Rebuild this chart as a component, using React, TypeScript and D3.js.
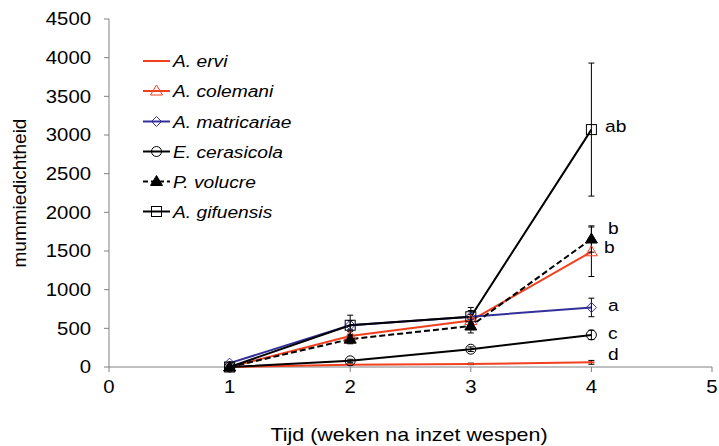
import React from "react";
import * as d3 from "d3";

const weeks = [1, 2, 3, 4];
const seriesNames = ["A. ervi", "A. colemani", "A. matricariae", "E. cerasicola", "P. volucre", "A. gifuensis"];
const ervi = [0, 30, 40, 60];
const colemani = [0, 400, 600, 1490];
const matricariae = [50, 540, 650, 770];
const cerasicola = [0, 80, 230, 415];
const volucre = [0, 360, 530, 1655];
const gifuensis = [0, 540, 650, 3070];
const erviErr = [0, 10, 10, 25];
const colemaniErr = [0, 60, 80, 320];
const matricariaeErr = [0, 60, 80, 120];
const cerasicolaErr = [0, 20, 30, 60];
const volucreErr = [0, 60, 90, 170];
const gifuensisErr = [0, 130, 120, 860];
const letters = ["d", "b", "a", "c", "b", "ab"];
const yTicks = [0, 500, 1000, 1500, 2000, 2500, 3000, 3500, 4000, 4500];
const xTicks = [0, 1, 2, 3, 4, 5];

const RED = "#F2401F";
const BLUE = "#34309A";
const BLACK = "#000000";
const STRETCH = 1.13;

type Series = {
  name: string;
  values: number[];
  err: number[];
  color: string;
  dashed: boolean;
  marker: "dash" | "triangle" | "diamond" | "circle" | "filledTriangle" | "square";
  letter: string;
  letterDy: number;
};

const series: Series[] = [
  { name: seriesNames[0], values: ervi, err: erviErr, color: RED, dashed: false, marker: "dash", letter: letters[0], letterDy: -8 },
  { name: seriesNames[1], values: colemani, err: colemaniErr, color: RED, dashed: false, marker: "triangle", letter: letters[1], letterDy: -5 },
  { name: seriesNames[2], values: matricariae, err: matricariaeErr, color: BLUE, dashed: false, marker: "diamond", letter: letters[2], letterDy: -3 },
  { name: seriesNames[3], values: cerasicola, err: cerasicolaErr, color: BLACK, dashed: false, marker: "circle", letter: letters[3], letterDy: -2 },
  { name: seriesNames[4], values: volucre, err: volucreErr, color: BLACK, dashed: true, marker: "filledTriangle", letter: letters[4], letterDy: -11 },
  { name: seriesNames[5], values: gifuensis, err: gifuensisErr, color: BLACK, dashed: false, marker: "square", letter: letters[5], letterDy: -4 },
];
const letterX = [608, 604, 608, 608, 608, 605];

function Marker({ kind, x, y, color }: { kind: Series["marker"]; x: number; y: number; color: string }) {
  const s = 5;
  switch (kind) {
    case "dash":
      return <line x1={x - 3} x2={x + 3} y1={y} y2={y} stroke={color} strokeWidth={2} />;
    case "triangle":
      return (
        <path
          d={`M${x},${y - s - 1}L${x + s + 1},${y + s - 1}L${x - s - 1},${y + s - 1}Z`}
          fill="none"
          stroke={color}
          strokeWidth={1}
        />
      );
    case "filledTriangle":
      return <path d={`M${x},${y - s - 1}L${x + s + 1},${y + s - 1}L${x - s - 1},${y + s - 1}Z`} fill={color} stroke={color} strokeWidth={1} />;
    case "diamond":
      return <path d={`M${x},${y - s}L${x + s},${y}L${x},${y + s}L${x - s},${y}Z`} fill="none" stroke={color} strokeWidth={1} />;
    case "circle":
      return <circle cx={x} cy={y} r={s} fill="none" stroke={color} strokeWidth={1} />;
    case "square":
      return <rect x={x - s} y={y - s} width={2 * s} height={2 * s} fill="none" stroke={color} strokeWidth={1} />;
  }
}

// Horizontally widened text, anchored at (x, y)
function WideText({
  x,
  y,
  anchor = "start",
  size,
  italic = false,
  children,
}: {
  x: number;
  y: number;
  anchor?: "start" | "middle" | "end";
  size: number;
  italic?: boolean;
  children: React.ReactNode;
}) {
  return (
    <text
      transform={`translate(${x},${y}) scale(${STRETCH},1)`}
      textAnchor={anchor}
      dy="0.36em"
      fontSize={size}
      fontStyle={italic ? "italic" : undefined}
      fill="#000"
    >
      {children}
    </text>
  );
}

export default function App() {
  const width = 719;
  const height = 446;
  const x = d3.scaleLinear().domain([0, 5]).range([109, 712]);
  const y = d3.scaleLinear().domain([0, 4500]).range([367, 19]);
  const line = d3
    .line<number>()
    .x((_, i) => x(weeks[i]))
    .y((d) => y(d));

  const font = "Arial, 'Liberation Sans', sans-serif";
  const legendY = [61, 91, 121.5, 151.5, 181.5, 211.5];

  return (
    <svg
      width={width}
      height={height}
      style={{ position: "absolute", left: 0, top: 0, background: "white" }}
      fontFamily={font}
    >
      {/* axes */}
      <line x1={x(0)} x2={x(0)} y1={y(4500)} y2={y(0)} stroke="#808080" strokeWidth={1} />
      <line x1={x(0)} x2={x(5)} y1={y(0)} y2={y(0)} stroke="#808080" strokeWidth={1} />
      {yTicks.map((t) => (
        <g key={`y${t}`}>
          <line x1={x(0) - 5} x2={x(0)} y1={y(t)} y2={y(t)} stroke="#808080" />
          <WideText x={91} y={y(t)} anchor="end" size={18}>
            {t}
          </WideText>
        </g>
      ))}
      {xTicks.map((t) => (
        <g key={`x${t}`}>
          <line x1={x(t)} x2={x(t)} y1={y(0)} y2={y(0) + 5} stroke="#808080" />
          <WideText x={x(t)} y={387} anchor="middle" size={18}>
            {t}
          </WideText>
        </g>
      ))}
      <WideText x={409} y={434} anchor="middle" size={19}>
        Tijd (weken na inzet wespen)
      </WideText>
      <text transform="translate(19,193) rotate(-90)" textAnchor="middle" dy="0.36em" fontSize={19} fill="#000">
        mummiedichtheid
      </text>

      {/* series lines */}
      {series.map((s) => (
        <path
          key={`l${s.name}`}
          d={line(s.values) || ""}
          fill="none"
          stroke={s.color}
          strokeWidth={2}
          strokeDasharray={s.dashed ? "6,3" : undefined}
        />
      ))}

      {/* error bars */}
      {series.map((s) =>
        s.values.map((v, i) =>
          s.err[i] > 0 ? (
            <g key={`e${s.name}${i}`} stroke="#000" strokeWidth={1}>
              <line x1={x(weeks[i])} x2={x(weeks[i])} y1={y(v + s.err[i])} y2={y(v - s.err[i])} />
              <line x1={x(weeks[i]) - 3} x2={x(weeks[i]) + 3} y1={y(v + s.err[i])} y2={y(v + s.err[i])} />
              <line x1={x(weeks[i]) - 3} x2={x(weeks[i]) + 3} y1={y(v - s.err[i])} y2={y(v - s.err[i])} />
            </g>
          ) : null
        )
      )}

      {/* markers */}
      {series.map((s) =>
        s.values.map((v, i) => <Marker key={`m${s.name}${i}`} kind={s.marker} x={x(weeks[i])} y={y(v)} color={s.color} />)
      )}

      {/* significance letters */}
      {series.map((s, i) => (
        <WideText key={`t${s.name}`} x={letterX[i]} y={y(s.values[3]) + s.letterDy} size={17}>
          {s.letter}
        </WideText>
      ))}

      {/* legend */}
      {series.map((s, i) => (
        <g key={`g${s.name}`}>
          <line
            x1={143}
            x2={170}
            y1={legendY[i]}
            y2={legendY[i]}
            stroke={s.color}
            strokeWidth={2}
            strokeDasharray={s.dashed ? "5,3" : undefined}
          />
          <Marker kind={s.marker} x={156.5} y={legendY[i]} color={s.color} />
          <WideText x={173} y={legendY[i]} size={17} italic>
            {s.name}
          </WideText>
        </g>
      ))}
    </svg>
  );
}
